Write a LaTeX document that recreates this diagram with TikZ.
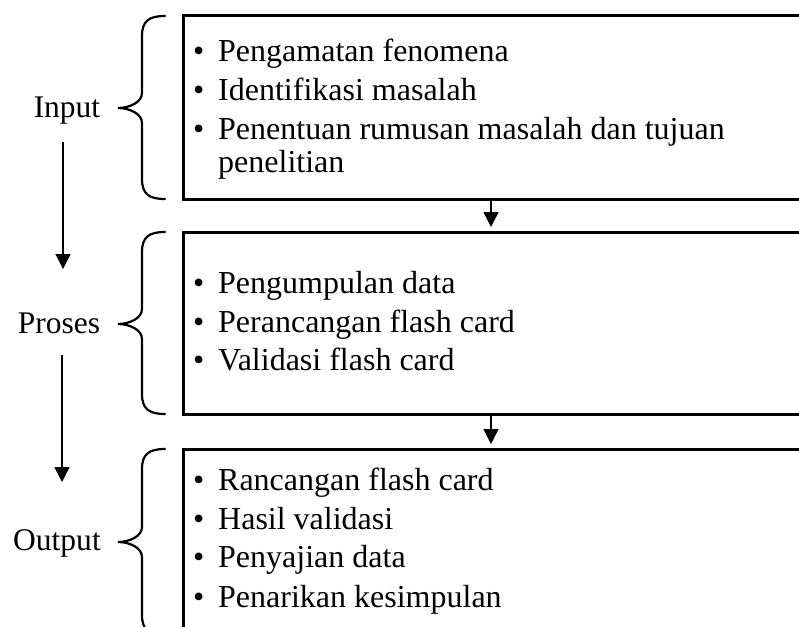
\documentclass[tikz,border=0pt]{standalone}
\usepackage{fontspec}
\setmainfont{Liberation Serif}
\usetikzlibrary{arrows.meta}
\tikzset{
  boxnode/.style={draw=none, inner sep=0pt, outer sep=0pt, minimum width=616pt},
  boxline/.style={line width=3pt, line join=miter, black},
  bracestyle/.style={line width=2.2pt, line cap=round, black},
  arr/.style={line width=1.4pt, -{Triangle[width=15pt,length=15pt]}},
  item/.style={anchor=base west, inner sep=0pt, font=\fontsize{32}{38.5}\selectfont},
  lbl/.style={anchor=base, inner sep=0pt, font=\fontsize{31.5}{38.5}\selectfont}
}
\newcommand{\itm}[1]{\makebox[25pt][l]{\textbullet}#1}
\begin{document}
\begin{tikzpicture}[x=1pt,y=-1pt]
\useasboundingbox (0,0) rectangle (799,626);
\clip (0,0) rectangle (799,626);
% boxes
\node[boxnode, minimum height=183pt] (b1) at (491,107.5) {};
\node[boxnode, minimum height=182pt] (b2) at (491,323) {};
\node[boxnode, minimum height=191pt] (b3) at (491,544.5) {};
\draw[boxline] (b1.north east) -- (b1.north west) -- (b1.south west) -- (b1.south east);
\draw[boxline] (b2.north east) -- (b2.north west) -- (b2.south west) -- (b2.south east);
\draw[boxline] (b3.north east) -- (b3.north west) -- (b3.south west) -- (b3.south east);
% box items
\node[item] (i1) at (193,61.7) {\itm{Pengamatan fenomena}};
\node[item] (i2) at (193,100.7) {\itm{Identifikasi masalah}};
\node[item] (i3) at (193,139) {\itm{Penentuan rumusan masalah dan tujuan}};
\node[item] (i4) at (218,172.3) {penelitian};
\node[item] (p1) at (193,293) {\itm{Pengumpulan data}};
\node[item] (p2) at (193,332) {\itm{Perancangan flash card}};
\node[item] (p3) at (193,370) {\itm{Validasi flash card}};
\node[item] (o1) at (193,490) {\itm{Rancangan flash card}};
\node[item] (o2) at (193,529) {\itm{Hasil validasi}};
\node[item] (o3) at (193,567.5) {\itm{Penyajian data}};
\node[item] (o4) at (193,607) {\itm{Penarikan kesimpulan}};
% labels
\node[lbl] (inp) at (67,117) {Input};
\node[lbl] (pro) at (59,333) {Proses};
\node[lbl] (out) at (57,550) {Output};
% braces
\foreach \t/\m/\b in {16/108/199, 232/324/414, 449/542/635}{
  \draw[bracestyle] (165,\t) .. controls (149,\t) and (142,\t+5) .. (142,\t+20)
    -- (142,\m-15) .. controls (142,\m-6) and (130,\m) .. (118,\m)
    .. controls (130,\m) and (142,\m+6) .. (142,\m+15)
    -- (142,\b-20) .. controls (142,\b-5) and (149,\b) .. (165,\b);
}
% arrows between boxes
\draw[arr, shorten >=5pt] (b1.south) -- (b2.north);
\draw[arr, shorten >=5pt] (b2.south) -- (b3.north);
% left arrows
\coordinate (a1s) at (63,142);
\coordinate (a1e) at (63,269);
\coordinate (a2s) at (62,355);
\coordinate (a2e) at (62,482);
\draw[arr] (a1s) -- (a1e);
\draw[arr] (a2s) -- (a2e);
\end{tikzpicture}
\end{document}
